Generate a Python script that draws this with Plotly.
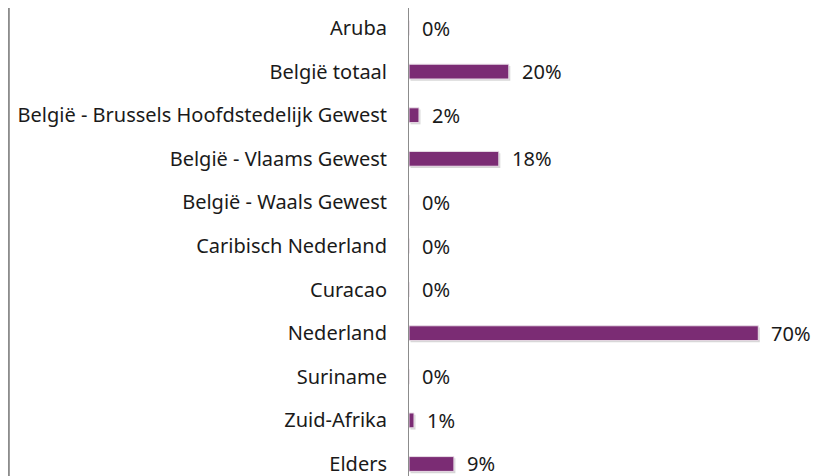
import plotly.graph_objects as go

# Gegevens
landen = ['Aruba', 'België totaal', 'België - Brussels Hoofdstedelijk Gewest',
          'België - Vlaams Gewest', 'België - Waals Gewest', 'Caribisch Nederland',
          'Curacao', 'Nederland', 'Suriname', 'Zuid-Afrika', 'Elders']
percentages = [0, 20, 2, 18, 0, 0, 0, 70, 0, 1, 9]
labels = ['0%', '20%', '2%', '18%', '0%', '0%', '0%', '70%', '0%', '1%', '9%']

paars = '#7b2c74'
font = 'Noto Sans'
fsize = 20

fig = go.Figure()

# schaduw onder de balken
fig.add_trace(go.Bar(
    y=landen, x=percentages, orientation='h', base=0.3,
    width=0.34, offset=-0.13,
    marker=dict(color='rgba(0,0,0,0.16)', line=dict(width=0)),
    hoverinfo='skip', showlegend=False,
))

# balken
fig.add_trace(go.Bar(
    y=landen, x=percentages, orientation='h',
    width=0.34, offset=-0.17,
    marker=dict(color=paars, line=dict(color='#eadfe8', width=1)),
    showlegend=False,
))

# labels rechts van de balken
for land, p, lab in zip(landen, percentages, labels):
    fig.add_annotation(x=p, y=land, text=lab, showarrow=False,
                       xanchor='left', yanchor='middle', xshift=11,
                       font=dict(family=font, size=fsize, color='#1a1a1a'))

# linker rand
fig.add_shape(type='line', xref='paper', yref='paper',
              x0=0.001, x1=0.001, y0=0, y1=1,
              line=dict(color='#8c8c8c', width=2))

fig.update_layout(
    width=830, height=476,
    margin=dict(l=0, r=0, t=0, b=0),
    paper_bgcolor='white', plot_bgcolor='white',
    barmode='overlay',
    font=dict(family=font, size=fsize, color='#1a1a1a'),
    xaxis=dict(domain=[401 / 830, 1], range=[0, 85.97], visible=False),
    yaxis=dict(range=[10.459, -0.459], showline=True, linecolor='#8c8c8c',
               linewidth=1, showgrid=False, ticks='', ticklabelstandoff=17,
               zeroline=False),
)

fig.write_html("out.html")
